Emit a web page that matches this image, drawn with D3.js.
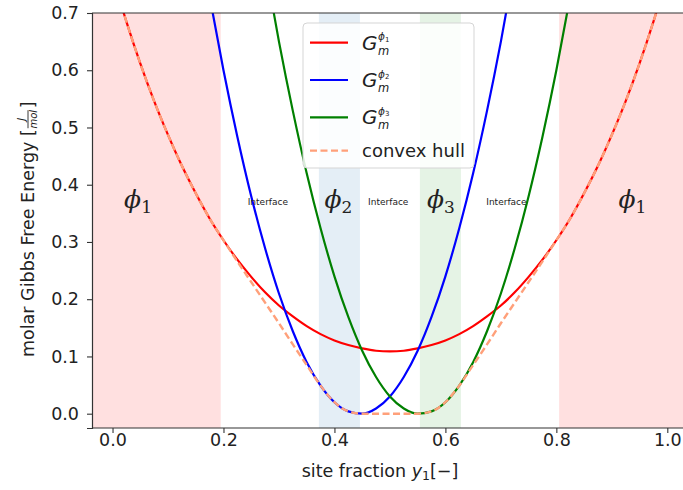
<!DOCTYPE html>
<html>
<head>
<meta charset="utf-8">
<script src="https://cdn.jsdelivr.net/npm/d3@7"></script>
<style>
  body { margin: 0; background: #fff; }
  text { font-family: "DejaVu Sans", sans-serif; fill: #222; }
</style>
</head>
<body>
<div id="chart"></div>
<script>
// site fraction y1 sampled every 0.025
const siteFraction = [0, 0.025, 0.05, 0.075, 0.1, 0.125, 0.15, 0.175, 0.2, 0.225,
  0.25, 0.275, 0.3, 0.325, 0.35, 0.375, 0.4, 0.425, 0.45, 0.475,
  0.5, 0.525, 0.55, 0.575, 0.6, 0.625, 0.65, 0.675, 0.7, 0.725,
  0.75, 0.775, 0.8, 0.825, 0.85, 0.875, 0.9, 0.925, 0.95, 0.975, 1]
const gPhi1 = [0.765, 0.685, 0.612, 0.546, 0.487, 0.433, 0.385, 0.341, 0.303, 0.269,
  0.239, 0.212, 0.189, 0.170, 0.153, 0.139, 0.128, 0.120, 0.114, 0.110,
  0.109, 0.110, 0.114, 0.120, 0.128, 0.139, 0.153, 0.170, 0.189, 0.212,
  0.239, 0.269, 0.303, 0.341, 0.385, 0.433, 0.487, 0.546, 0.612, 0.685, 0.765]
const gPhi2 = [1.980, 1.764, 1.560, 1.369, 1.190, 1.024, 0.870, 0.729, 0.600, 0.484,
  0.380, 0.289, 0.210, 0.144, 0.090, 0.049, 0.020, 0.004, 0.000, 0.009,
  0.030, 0.064, 0.110, 0.169, 0.240, 0.324, 0.420, 0.529, 0.650, 0.784,
  0.930, 1.089, 1.260, 1.444, 1.640, 1.849, 2.070, 2.304, 2.550, 2.809, 3.080]
const gPhi3 = [3.080, 2.809, 2.550, 2.304, 2.070, 1.849, 1.640, 1.444, 1.260, 1.089,
  0.930, 0.784, 0.650, 0.529, 0.420, 0.324, 0.240, 0.169, 0.110, 0.064,
  0.030, 0.009, 0.000, 0.004, 0.020, 0.049, 0.090, 0.144, 0.210, 0.289,
  0.380, 0.484, 0.600, 0.729, 0.870, 1.024, 1.190, 1.369, 1.560, 1.764, 1.980]
const convexHull = [0.765, 0.685, 0.612, 0.546, 0.487, 0.433, 0.385, 0.341, 0.303, 0.266,
  0.230, 0.194, 0.158, 0.121, 0.085, 0.049, 0.020, 0.004, 0.000, 0.000,
  0.000, 0.000, 0.000, 0.004, 0.020, 0.049, 0.085, 0.121, 0.158, 0.194,
  0.230, 0.266, 0.303, 0.341, 0.385, 0.433, 0.487, 0.546, 0.612, 0.685, 0.765]

// shaded phase regions
const regionFrom = [-0.04, 0.372, 0.554, 0.805]
const regionTo = [0.195, 0.446, 0.628, 1.04]
const regionPhase = [1, 2, 3, 1]

// region labels
const labelX = [0.046, 0.28, 0.407, 0.497, 0.592, 0.71, 0.937]
const labelText = ['1', 'Interface', '2', 'Interface', '3', 'Interface', '1']
const labelY = 0.37

const xTicks = [0, 0.2, 0.4, 0.6, 0.8, 1.0]
const yTicks = [0, 0.1, 0.2, 0.3, 0.4, 0.5, 0.6, 0.7]

const W = 683
const H = 490
const plotLeft = 92
const plotTop = 13
const plotBottom = 428

var x = d3.scaleLinear().domain([-0.037, 1.037]).range([plotLeft, 112.3 + 1.037 * 555])
var y = d3.scaleLinear().domain([-0.025, 0.7]).range([plotBottom, plotTop])

var svg = d3.select('#chart').append('svg')
  .attr('width', W)
  .attr('height', H)

svg.append('clipPath').attr('id', 'plot')
  .append('rect')
  .attr('x', plotLeft).attr('y', plotTop)
  .attr('width', x.range()[1] - plotLeft).attr('height', plotBottom - plotTop)

var plot = svg.append('g').attr('clip-path', 'url(#plot)')

var bandColor = { 1: 'rgba(255,0,0,0.12)', 2: 'rgba(31,119,180,0.12)', 3: 'rgba(44,160,44,0.12)' }
plot.selectAll('.band')
  .data(regionFrom)
  .enter().append('rect')
  .attr('x', (d, i) => x(d))
  .attr('width', (d, i) => x(regionTo[i]) - x(d))
  .attr('y', plotTop)
  .attr('height', plotBottom - plotTop)
  .attr('fill', (d, i) => bandColor[regionPhase[i]])

var line = d3.line()
  .x((d, i) => x(siteFraction[i]))
  .y(d => y(d))
  .curve(d3.curveMonotoneX)

var series = [
  { values: gPhi1, color: 'red' },
  { values: gPhi2, color: 'blue' },
  { values: gPhi3, color: 'green' }
]
series.forEach(function (s) {
  plot.append('path')
    .attr('d', line(s.values))
    .attr('fill', 'none')
    .attr('stroke', s.color)
    .attr('stroke-width', 2.2)
})
plot.append('path')
  .attr('d', line(convexHull))
  .attr('fill', 'none')
  .attr('stroke', '#ffa07a')
  .attr('stroke-width', 2.4)
  .attr('stroke-dasharray', '7,3.5')

// region labels
labelText.forEach(function (t, i) {
  if (t === 'Interface') {
    svg.append('text')
      .attr('x', x(labelX[i]))
      .attr('y', y(labelY) + 3)
      .attr('text-anchor', 'middle')
      .style('font-size', '9px')
      .text(t)
  } else {
    var lab = svg.append('text')
      .attr('x', x(labelX[i]))
      .attr('y', y(labelY) + 6)
      .attr('text-anchor', 'middle')
      .style('font-family', '"DejaVu Serif", serif')
    lab.append('tspan').style('font-size', '25px').style('font-style', 'italic').text('ϕ')
    lab.append('tspan').style('font-size', '17px').attr('dy', 5).text(t)
  }
})

// axes
var xAxis = svg.append('g')
  .attr('transform', 'translate(0,' + plotBottom + ')')
  .call(d3.axisBottom(x).tickValues(xTicks).tickFormat(d3.format('.1f')).tickSize(5).tickPadding(0.5))
var yAxis = svg.append('g')
  .attr('transform', 'translate(' + plotLeft + ',0)')
  .call(d3.axisLeft(y).tickValues(yTicks).tickFormat(d3.format('.1f')).tickSize(5).tickPadding(8))
;[xAxis, yAxis].forEach(function (a) {
  a.select('.domain').attr('stroke', '#333').attr('stroke-width', 1.2)
  a.selectAll('.tick line').attr('stroke', '#333').attr('stroke-width', 1.1)
  a.selectAll('.tick text').style('font-size', '17.5px').attr('fill', '#222')
})
xAxis.select('.domain').attr('d', 'M' + plotLeft + ',0H' + W)
svg.append('line')
  .attr('x1', plotLeft).attr('x2', W)
  .attr('y1', plotTop).attr('y2', plotTop)
  .attr('stroke', '#333').attr('stroke-width', 1.2)

// axis labels
var xl = svg.append('text')
  .attr('x', 380).attr('y', 477)
  .attr('text-anchor', 'middle')
  .style('font-size', '17.5px')
xl.append('tspan').text('site fraction ')
xl.append('tspan').style('font-style', 'italic').text('y')
xl.append('tspan').style('font-size', '12.5px').attr('dy', 3).text('1')
xl.append('tspan').attr('dy', -3).text('[−]')

var yl = svg.append('g').attr('transform', 'translate(34,357) rotate(-90)')
var ylMain = yl.append('text').attr('x', 0).attr('y', 0)
  .style('font-size', '17.5px')
  .text('molar Gibbs Free Energy [')
var w = ylMain.node().getComputedTextLength()
yl.append('text').attr('x', w + 10).attr('y', -9)
  .attr('text-anchor', 'middle')
  .style('font-size', '10px').style('font-style', 'italic')
  .text('J')
yl.append('line')
  .attr('x1', w + 1).attr('x2', w + 19)
  .attr('y1', -6).attr('y2', -6)
  .attr('stroke', '#222').attr('stroke-width', 0.9)
yl.append('text').attr('x', w + 10).attr('y', 2.5)
  .attr('text-anchor', 'middle')
  .style('font-size', '10px').style('font-style', 'italic')
  .text('mol')
yl.append('text').attr('x', w + 21).attr('y', 0)
  .style('font-size', '17.5px')
  .text(']')

// legend
var legend = svg.append('g')
legend.append('rect')
  .attr('x', 303).attr('y', 23)
  .attr('width', 171).attr('height', 145)
  .attr('rx', 4)
  .attr('fill', 'rgba(255,255,255,0.85)')
  .attr('stroke', '#d5d5d5')
var legendItems = [
  { color: 'red', phase: '1', dash: null },
  { color: 'blue', phase: '2', dash: null },
  { color: 'green', phase: '3', dash: null },
  { color: '#ffa07a', phase: null, dash: '7,3.5' }
]
var rowY = [42.7, 80, 117.3, 150.7]
legendItems.forEach(function (d, i) {
  legend.append('line')
    .attr('x1', 310).attr('x2', 348)
    .attr('y1', rowY[i]).attr('y2', rowY[i])
    .attr('stroke', d.color).attr('stroke-width', 2.2)
    .attr('stroke-dasharray', d.dash)
  if (d.phase) {
    var t = legend.append('text')
      .attr('x', 362).attr('y', rowY[i] + 7)
      .style('font-style', 'italic')
    var gSpan = t.append('tspan').style('font-size', '20px').text('G')
    var gx = 362 + gSpan.node().getComputedTextLength() + 0.5
    t.append('tspan').attr('x', gx).attr('y', rowY[i] - 2.5)
      .style('font-size', '10.5px').text('ϕ')
    t.append('tspan').attr('dy', 1.5)
      .style('font-size', '7px').style('font-style', 'normal').text(d.phase)
    t.append('tspan').attr('x', gx).attr('y', rowY[i] + 12)
      .style('font-size', '11.5px').text('m')
  } else {
    legend.append('text')
      .attr('x', 362).attr('y', rowY[i] + 6)
      .style('font-size', '18px')
      .text('convex hull')
  }
})
</script>
</body>
</html>
